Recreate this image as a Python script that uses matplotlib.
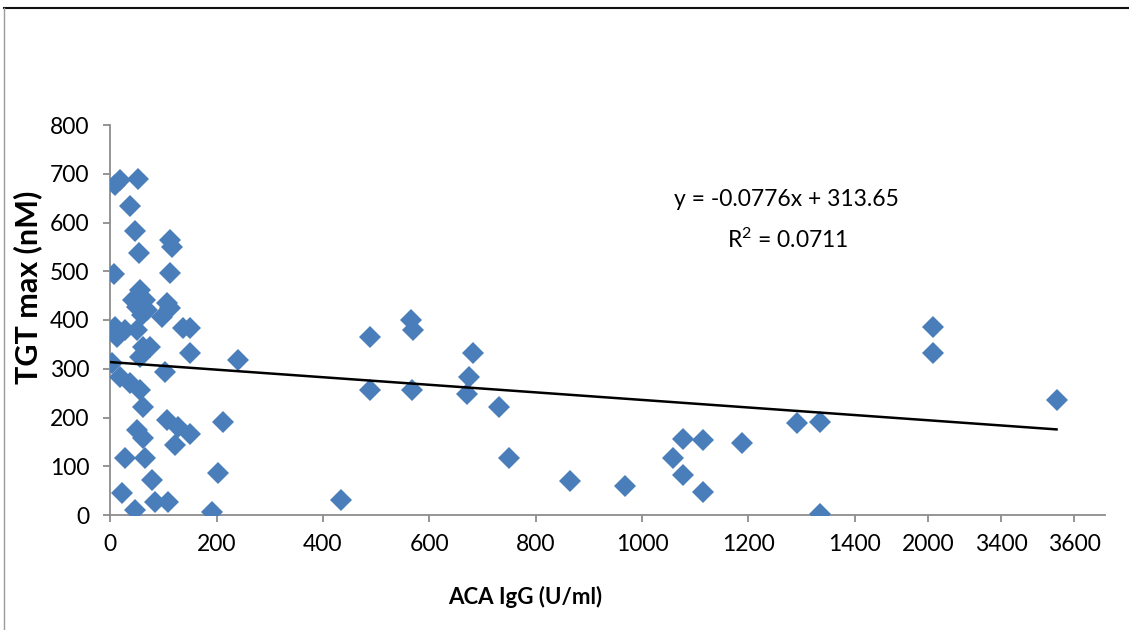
import numpy as np
import matplotlib
matplotlib.use("Agg")
from matplotlib import pyplot as plt
from matplotlib.lines import Line2D

# ACA IgG (U/ml) vs TGT max (nM)
aca_igg = [9, 18, 52, 37, 47, 112, 116, 54, 7, 112,
           43, 56, 65, 69, 59, 50, 106, 97, 112,
           9, 12, 28, 50, 137, 150, 62, 75, 56, 150,
           3, 18, 37, 56, 103, 241, 62,
           106, 128, 150, 122, 213, 50, 62,
           28, 65, 203, 78, 22, 84, 109, 47, 191,
           434, 488, 488, 565, 570, 568, 683, 675, 670, 731, 749,
           865, 968, 1059, 1077, 1077, 1115, 1115, 1188, 1292, 1335, 1335,
           2100, 2100, 3552]
tgt_max = [677, 687, 689, 633, 582, 564, 550, 538, 494, 497,
           441, 462, 441, 421, 410, 427, 434, 407, 424,
           386, 366, 379, 379, 383, 383, 345, 345, 325, 332,
           311, 284, 270, 256, 294, 318, 222,
           195, 181, 167, 144, 191, 174, 157,
           116, 116, 86, 72, 45, 27, 27, 10, 7,
           31, 365, 256, 400, 380, 256, 332, 284, 249, 222, 116,
           70, 59, 116, 155, 82, 154, 48, 147, 188, 190, 3,
           385, 332, 236]

# Trend line as printed on the chart (fitted on axis position)
slope, intercept = -0.0776, 313.65

xticks = [0, 200, 400, 600, 800, 1000, 1200, 1400, 2000, 3400, 3600]
yticks = [0, 100, 200, 300, 400, 500, 600, 700, 800]

# broken x axis: tick values vs. where they sit on the axis
break_vals = [0, 1400, 2000, 3400, 3600, 3700]
break_pos = [0, 1400, 1538, 1675, 1812, 1880.5]


def fwd(v):
    return np.interp(v, break_vals, break_pos)


def inv(p):
    return np.interp(p, break_pos, break_vals)


plt.rcParams["font.family"] = ["Lato", "DejaVu Sans"]
plt.rcParams["mathtext.fontset"] = "custom"
plt.rcParams["mathtext.rm"] = "Lato"
plt.rcParams["mathtext.it"] = "Lato"

W, H = 1129, 630
fig = plt.figure(figsize=(W / 100, H / 100), dpi=100)
ax = fig.add_axes([110.2 / W, 115 / H, 994.8 / W, 390 / H])

ax.set_xscale("function", functions=(fwd, inv))
ax.plot(aca_igg, tgt_max, linestyle="none", marker="D", markersize=11,
        color="#4a7ebb", markeredgewidth=0, zorder=3)

xv = np.linspace(0, max(aca_igg), 300)
ax.plot(xv, slope * fwd(xv) + intercept, color="black", lw=1.8, zorder=4)

ax.set_xlim(0, 3685)
ax.set_ylim(0, 800)
ax.set_xticks(xticks, labels=[str(t) for t in xticks])
ax.set_yticks(yticks)

for s in ["top", "right"]:
    ax.spines[s].set_visible(False)
for s in ["left", "bottom"]:
    ax.spines[s].set_color("#8c8c8c")
    ax.spines[s].set_linewidth(1.3)
ax.tick_params(axis="both", direction="out", length=5, width=1.3, color="#8c8c8c")
ax.tick_params(axis="y", pad=10, labelsize=16.5)
ax.tick_params(axis="x", pad=9, labelsize=16.5)

ax.set_xlabel("ACA IgG (U/ml)", fontsize=16, fontweight="bold", va="center")
ax.xaxis.set_label_coords(0.417, -0.21)
ax.set_ylabel("TGT max (nM)", fontsize=22, fontweight="bold", va="center")
ax.yaxis.set_label_coords(-0.0826, 0.585)

ax.text(0.680, 0.808, "y = -0.0776x + 313.65", transform=ax.transAxes,
        ha="center", va="center", fontsize=16.5)
ax.text(0.681, 0.705, "R$^{2}$ = 0.0711", transform=ax.transAxes,
        ha="center", va="center", fontsize=16.5)

# picture frame
fig.add_artist(Line2D([4 / W, 1], [1 - 8 / H, 1 - 8 / H], color="#111111", lw=1.5))
fig.add_artist(Line2D([4 / W, 4 / W], [0, 1 - 8 / H], color="#9a9a9a", lw=1.0))

fig.savefig("out.png", dpi=100)
